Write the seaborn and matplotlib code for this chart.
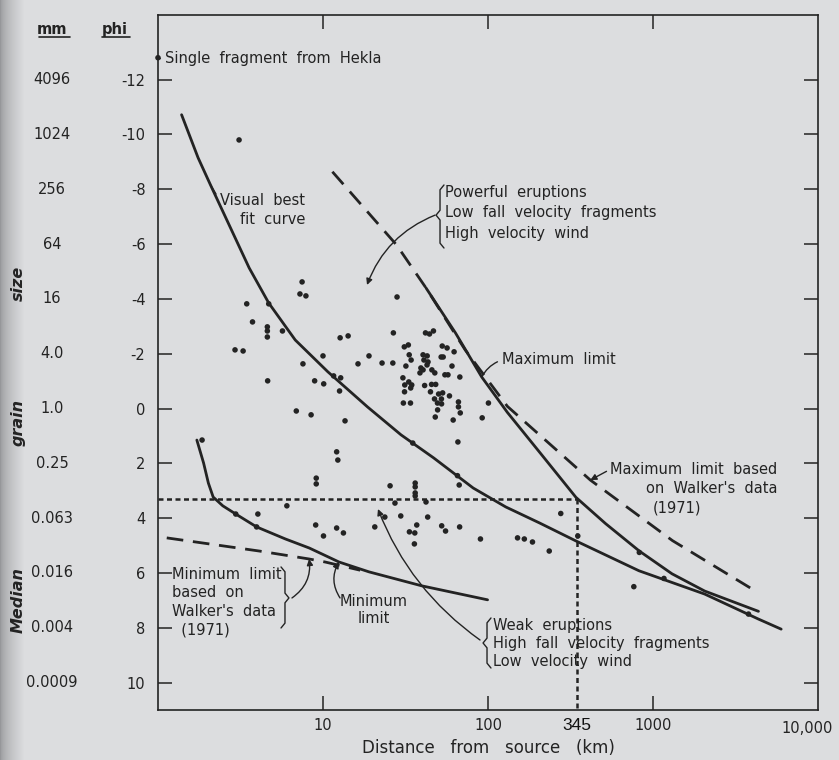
import matplotlib
matplotlib.use("Agg")
import matplotlib.pyplot as plt
from matplotlib.lines import Line2D
from matplotlib import transforms
from matplotlib.ticker import NullLocator
import numpy as np
import seaborn as sns

INK = "#232323"
PAPER = "#dcdddf"

# Median grain size of tephra samples vs. distance from vent
sample_km = [
    3.1, 7.47, 7.25, 7.88, 3.45, 4.69, 3.74, 4.6, 4.6, 4.6, 5.68, 12.7, 2.93, 3.28,
    10.0, 7.56, 8.9, 10.1, 11.6, 12.8, 12.6, 4.62, 6.89, 8.47,
    28.1, 14.2, 26.7, 41.8, 44.2, 46.7, 31.1, 32.9, 52.8, 56.5, 62.3, 19.0, 16.3, 22.8,
    26.5, 33.3, 34.2, 31.8, 40.4, 42.8, 40.9, 43.3, 42.7, 52.0, 53.5, 39.2, 40.4, 38.7,
    45.7, 47.6, 60.5, 57.2, 54.8, 67.5, 30.5,
    33.1, 31.3, 34.5, 34.0, 41.3, 45.5, 48.2, 31.2, 44.8, 50.2, 53.1, 58.4, 47.4, 52.2,
    49.4, 52.3, 49.5, 30.7, 33.9, 66.2, 66.2, 67.9, 47.9, 61.5, 92.2, 100.6, 13.6, 65.7,
    35.0, 12.1, 12.3, 65.3,
    1.85, 9.1, 9.1, 6.04, 2.96, 4.03, 3.96, 9.03, 10.07, 12.1,
    25.5, 36.2, 36.2, 36.2, 36.2, 66.9, 27.3, 42.1, 29.6, 23.7, 43.1, 13.3, 20.6, 37.0,
    33.4, 36.0, 35.8, 52.4, 55.3, 67.3, 90.0,
    276, 151, 166, 186, 235, 350, 826, 765, 1165, 3790,
]
sample_phi = [
    -9.8, -4.62, -4.18, -4.11, -3.82, -3.82, -3.16, -2.98, -2.83, -2.61, -2.83, -2.58,
    -2.14, -2.10, -1.92, -1.63, -1.01, -0.90, -1.19, -1.12, -0.64, -1.01, 0.09, 0.23,
    -4.07, -2.65, -2.76, -2.76, -2.72, -2.83, -2.25, -2.32, -2.28, -2.21, -2.07, -1.92,
    -1.63, -1.66, -1.66, -1.96, -1.77, -1.55, -1.96, -1.92, -1.77, -1.70, -1.59, -1.88,
    -1.88, -1.48, -1.41, -1.30, -1.41, -1.30, -1.55, -1.23, -1.23, -1.15, -1.12,
    -0.97, -0.86, -0.86, -0.75, -0.84, -0.88, -0.88, -0.61, -0.61, -0.53, -0.57, -0.46,
    -0.35, -0.35, -0.20, -0.17, 0.05, -0.20, -0.20, -0.24, -0.06, 0.16, 0.31, 0.42,
    0.34, -0.20, 0.45, 1.22, 1.26, 1.58, 1.88, 2.45,
    1.15, 2.54, 2.75, 3.55, 3.85, 3.85, 4.32, 4.25, 4.65, 4.36,
    2.82, 2.72, 2.86, 3.08, 3.19, 2.79, 3.45, 3.41, 3.92, 3.96, 3.96, 4.54, 4.32, 4.25,
    4.50, 4.54, 4.94, 4.28, 4.47, 4.32, 4.76,
    3.83, 4.72, 4.76, 4.87, 5.20, 4.65, 5.25, 6.5, 6.2, 7.5,
]

# Single Hekla fragment
hekla_km = 1.0
hekla_phi = -12.8

# Hand-fitted curves
best_fit_km = [1.39, 1.75, 2.08, 3.57, 4.69, 6.79, 10.7, 18.6, 29.7, 46.8, 81.3,
               128, 206, 338, 822, 2056, 4345, 5980]
best_fit_phi = [-10.72, -9.15, -8.16, -5.13, -3.85, -2.50, -1.34, -0.06, 0.96, 1.80,
                2.90, 3.59, 4.18, 4.82, 5.92, 6.77, 7.68, 8.05]

max_limit_km = [42.1, 63.5, 91.6, 131, 209, 341, 516, 826, 1303, 2057, 4355]
max_limit_phi = [-4.40, -2.76, -1.15, 0.14, 1.65, 3.24, 4.20, 5.20, 6.03, 6.66, 7.40]

walker_max_km = [11.4, 27.9, 42.1, 72.7, 131, 417, 1312, 3970]
walker_max_phi = [-8.64, -5.97, -4.40, -2.14, -0.08, 2.61, 4.82, 6.58]

min_limit_km = [1.72, 1.89, 2.02, 2.16, 2.47, 2.96, 3.96, 5.92, 8.26, 12.5, 19.0, 39.7, 99.4]
min_limit_phi = [1.15, 1.99, 2.72, 3.23, 3.55, 3.85, 4.32, 4.76, 5.09, 5.60, 5.96, 6.47, 6.98]

walker_min_km = [1.13, 4.11, 8.24, 10.3, 16.8]
walker_min_phi = [4.72, 5.20, 5.49, 5.60, 5.90]

# 0.1 mm cut-off read at 345 km
cutoff_km = 345
cutoff_phi = 3.3

phi_ticks = [-12, -10, -8, -6, -4, -2, 0, 2, 4, 6, 8, 10]
mm_labels = ["4096", "1024", "256", "64", "16", "4.0", "1.0", "0.25", "0.063",
             "0.016", "0.004", "0.0009"]
km_ticks = [10, 100, 1000]
km_labels = ["10", "100", "1000"]

sns.set_theme(style="ticks")
plt.rcParams["font.family"] = ["DejaVu Sans"]
plt.rcParams["axes.edgecolor"] = INK
plt.rcParams["text.color"] = INK

fig = plt.figure(figsize=(8.39, 7.60), dpi=100, facecolor=PAPER)

# paper shading toward the binding edge
bg = fig.add_axes([0, 0, 1, 1], zorder=-10)
bg.set_axis_off()
cols = np.linspace(0, 1, 839)
shade = np.clip(cols * 839 / 24.0, 0, 1) ** 0.6
dark = np.array([150, 151, 154]) / 255
light = np.array([220, 221, 223]) / 255
row = dark[None, :] + (light - dark)[None, :] * shade[:, None]
bg.imshow(np.repeat(row[None, :, :], 2, axis=0), aspect="auto", extent=[0, 1, 0, 1])
bg.set_xlim(0, 1)
bg.set_ylim(0, 1)

ax = fig.add_axes([0.1883, 0.0658, 0.7867, 0.9145])
ax.set_facecolor("none")
ax.set_xscale("log")
ax.set_xlim(1, 1e4)
ax.set_ylim(11.0, -14.36)

line_kw = dict(color=INK, sort=False, estimator=None, legend=False)
sns.lineplot(x=best_fit_km, y=best_fit_phi, ax=ax, lw=2.0, **line_kw)
sns.lineplot(x=max_limit_km, y=max_limit_phi, ax=ax, lw=2.0, **line_kw)
sns.lineplot(x=min_limit_km, y=min_limit_phi, ax=ax, lw=2.0, **line_kw)
sns.lineplot(x=walker_max_km, y=walker_max_phi, ax=ax, lw=2.0,
             linestyle=(0, (6, 3.5)), **line_kw)
sns.lineplot(x=walker_min_km, y=walker_min_phi, ax=ax, lw=2.0,
             linestyle=(0, (6, 3.5)), **line_kw)

# 345 km / 0.1 mm guide
ax.plot([1, cutoff_km], [cutoff_phi, cutoff_phi], color=INK, lw=1.8,
        linestyle=(0, (2, 1.4)))
ax.plot([cutoff_km, cutoff_km], [cutoff_phi, 11.0], color=INK, lw=1.8,
        linestyle=(0, (2, 1.4)))

sns.scatterplot(x=sample_km, y=sample_phi, ax=ax, s=16, color=INK,
                edgecolor="none", linewidth=0, legend=False, zorder=3)
sns.scatterplot(x=[hekla_km], y=[hekla_phi], ax=ax, s=16, color=INK,
                edgecolor="none", linewidth=0, legend=False, zorder=4, clip_on=False)

# axes, ticks and labels
for sp in ax.spines.values():
    sp.set_linewidth(1.2)
    sp.set_color(INK)
ax.set_xticks(km_ticks, km_labels)
ax.xaxis.set_minor_locator(NullLocator())
ax.set_yticks(phi_ticks, [str(v) for v in phi_ticks])
ax.yaxis.set_minor_locator(NullLocator())
ax.tick_params(axis="both", which="major", direction="in", length=10, width=1.1,
               color=INK, labelcolor=INK, labelsize=10.5, top=True, right=True)
ax.tick_params(axis="x", pad=6)
ax.tick_params(axis="y", pad=9)
ax.set_xlabel("")
ax.set_ylabel("")

xblend = transforms.blended_transform_factory(ax.transData, ax.transAxes)
shift = transforms.ScaledTranslation(-8 / 72, 0, fig.dpi_scale_trans)
ax.text(1e4, -0.0155, "10,000", transform=xblend + shift, ha="center", va="top",
        fontsize=10.5, color=INK)
ax.text(cutoff_km, -0.011, str(cutoff_km), transform=xblend, ha="center", va="top",
        fontsize=12.5, family="Liberation Sans", color="#111111")

yblend = transforms.blended_transform_factory(fig.transFigure, ax.transData)
for v, lab in zip(phi_ticks, mm_labels):
    ax.text(0.062, v, lab, transform=yblend, ha="center", va="center",
            fontsize=10.5, color=INK)

fig.text(0.062, 0.9618, "mm", ha="center", va="center", fontsize=10.5,
         weight="bold", color=INK)
fig.text(0.137, 0.9618, "phi", ha="center", va="center", fontsize=10.5,
         weight="bold", color=INK)
fig.add_artist(Line2D([0.047, 0.083], [0.951, 0.951], color=INK, lw=1.2))
fig.add_artist(Line2D([0.121, 0.155], [0.951, 0.951], color=INK, lw=1.2))

for word, yy in [("Median", 0.2105), ("grain", 0.4447), ("size", 0.6276)]:
    fig.text(0.0215, yy, word, rotation=90, ha="center", va="center",
             fontsize=11.5, style="italic", weight="bold", color=INK)

fig.text(0.5816, 0.0158, "Distance   from   source   (km)", ha="center",
         va="center", fontsize=12, color=INK)

TXT = dict(fontsize=10.5, color=INK)


def brace(x, y0, y1, ym, side, w=0.006, hook=0.007):
    d = -1 if side == "left" else 1
    xs = [x - d * w, x, x, x + d * w, x, x, x - d * w]
    ys = [y1, y1 - hook, ym + hook, ym, ym - hook, y0 + hook, y0]
    ax.add_line(Line2D(xs, ys, transform=ax.transAxes, color=INK, lw=1.0,
                       clip_on=False))


def arrow(style="-|>"):
    return dict(arrowstyle=style, color=INK, lw=1.0, shrinkA=0, shrinkB=0,
                mutation_scale=9)


ax.annotate("Single  fragment  from  Hekla", xy=(hekla_km, hekla_phi),
            xytext=(0.0106, 0.938), textcoords="axes fraction",
            ha="left", va="center",
            arrowprops=dict(arrowstyle="-", color=INK, lw=1.0, relpos=(0, 0.5),
                            shrinkA=1, shrinkB=2,
                            connectionstyle="arc3,rad=-0.25"),
            **TXT)

ax.annotate("Visual  best\nfit  curve", xy=(best_fit_km[2], best_fit_phi[2]),
            xytext=(0.2227, 0.7194), textcoords="axes fraction",
            ha="right", va="center", multialignment="right", linespacing=1.3,
            arrowprops=dict(arrowstyle="-", color=INK, lw=1.0, relpos=(0, 0.78),
                            shrinkA=1, shrinkB=0),
            **TXT)

ax.text(0.4348, 0.7151,
        "Powerful  eruptions\nLow  fall  velocity  fragments\nHigh  velocity  wind",
        transform=ax.transAxes, ha="left", va="center", linespacing=1.45, **TXT)
brace(0.4273, 0.6647, 0.7554, 0.712, "left")
ax.annotate("", xy=(0.3167, 0.6115), xycoords="axes fraction",
            xytext=(0.4197, 0.712), textcoords="axes fraction",
            arrowprops=dict(connectionstyle="arc3,rad=0.22", **arrow()))

ax.annotate("Maximum  limit", xy=(max_limit_km[2], max_limit_phi[2]),
            xytext=(0.5212, 0.5036), textcoords="axes fraction",
            ha="left", va="center",
            arrowprops=dict(arrowstyle="-", color=INK, lw=1.0, relpos=(0, 0.5),
                            shrinkA=1, shrinkB=0,
                            connectionstyle="arc3,rad=0.2"),
            **TXT)

ax.annotate("Maximum  limit  based\non  Walker's  data",
            xy=(walker_max_km[5], walker_max_phi[5]),
            xytext=(0.9379, 0.3324), textcoords="axes fraction",
            ha="right", va="center", multialignment="right", linespacing=1.3,
            arrowprops=dict(relpos=(0, 0.78), **arrow()),
            **TXT)
ax.text(0.7864, 0.2906, "(1971)", transform=ax.transAxes, ha="center",
        va="center", **TXT)

ax.text(0.0212, 0.1554, "Minimum  limit\nbased  on\nWalker's  data\n  (1971)",
        transform=ax.transAxes, ha="left", va="center", linespacing=1.3, **TXT)
brace(0.1924, 0.118, 0.2058, 0.1612, "right")
ax.annotate("", xy=(walker_min_km[2], walker_min_phi[2]),
            xytext=(0.2030, 0.1612), textcoords="axes fraction",
            arrowprops=dict(connectionstyle="arc3,rad=0.3", **arrow()))

ax.text(0.3273, 0.1439, "Minimum\nlimit", transform=ax.transAxes, ha="center",
        va="center", multialignment="center", linespacing=1.2, **TXT)
ax.annotate("", xy=(min_limit_km[9], min_limit_phi[9]),
            xytext=(0.2758, 0.1612), textcoords="axes fraction",
            arrowprops=dict(connectionstyle="arc3,rad=-0.3", **arrow()))

ax.text(0.5076, 0.095,
        "Weak  eruptions\nHigh  fall  velocity  fragments\nLow  velocity  wind",
        transform=ax.transAxes, ha="left", va="center", linespacing=1.25, **TXT)
brace(0.4985, 0.0604, 0.1324, 0.0964, "left")
ax.annotate("", xy=(0.3333, 0.2892), xycoords="axes fraction",
            xytext=(0.4879, 0.1007), textcoords="axes fraction",
            arrowprops=dict(connectionstyle="arc3,rad=-0.15", **arrow()))

fig.savefig("out.png", dpi=100, facecolor=PAPER)
